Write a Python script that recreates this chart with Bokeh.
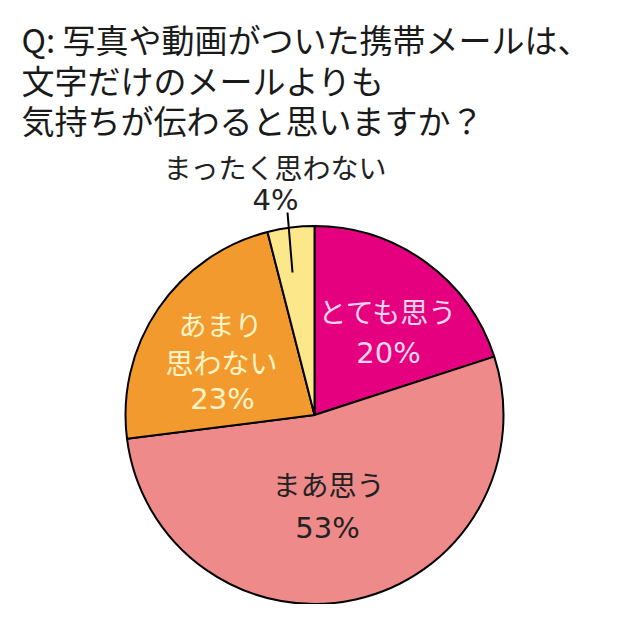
import math
from bokeh.plotting import figure
from bokeh.models import Range1d
from bokeh.core.properties import value
from bokeh.embed import file_html
from bokeh.resources import INLINE

# ---- data ----
categories = ["とても思う", "まあ思う", "あまり思わない", "まったく思わない"]
percents = [20, 53, 23, 4]
colors = ["#E4007F", "#EF8A8B", "#F39A2E", "#FCE88A"]
title_lines = ["Q: 写真や動画がついた携帯メールは、", "文字だけのメールよりも", "気持ちが伝わると思いますか？"]

# label layout (pixel coordinates of the 620x620 picture)
name_lines = [["とても思う"], ["まあ思う"], ["あまり", "思わない"], ["まったく思わない"]]
name_pos = [[(388, 310)], [(328, 483)], [(220, 323), (221, 361)], [(275, 166)]]
pct_pos = [(388, 352), (327, 527), (222, 398), (275, 199)]
label_colors = ["#FAD6EA", "#222222", "#FFF4C6", "#222222"]

FONT = "Noto Sans CJK JP"
NUMFONT = "DejaVu Sans"
W = H = 604

def Y(py):
    return 604 - py

p = figure(width=W, height=H, output_backend="svg", toolbar_location=None,
           x_range=Range1d(0, 604), y_range=Range1d(0, 604), min_border=0)
p.axis.visible = False
p.grid.visible = False
p.outline_line_color = None
p.background_fill_color = "white"

cx, cy, r = 314, 414.5, 189
total = sum(percents)
cum = 0
for val, col in zip(percents, colors):
    a0 = math.pi / 2 - 2 * math.pi * (cum + val) / total
    a1 = math.pi / 2 - 2 * math.pi * cum / total
    p.wedge(x=cx, y=Y(cy), radius=r, radius_units="screen", start_angle=a0, end_angle=a1,
            fill_color=col, line_color="black", line_width=2)
    cum += val

# leader line for small slice
p.line(x=[287, 292], y=[Y(212), Y(272)], line_color="black", line_width=2)

for lines, poss, pp, pc, col in zip(name_lines, name_pos, pct_pos, percents, label_colors):
    for t, (x, y) in zip(lines, poss):
        p.text(x=[x], y=[Y(y)], text=[t], text_align="center", text_baseline="middle",
               text_font=value(FONT), text_font_size="28px", text_color=col)
    p.text(x=[pp[0]], y=[Y(pp[1])], text=[f"{pc}%"], text_align="center", text_baseline="middle",
           text_font=value(NUMFONT), text_font_size="29px", text_color=col)

title_y = [38, 79, 119]
for t, ty in zip(title_lines, title_y):
    p.text(x=[21], y=[Y(ty)], text=[t], text_align="left", text_baseline="middle",
           text_font=value(FONT), text_font_size="33px", text_color="#1a1a1a")

open("out.html", "w").write(file_html(p, INLINE))
